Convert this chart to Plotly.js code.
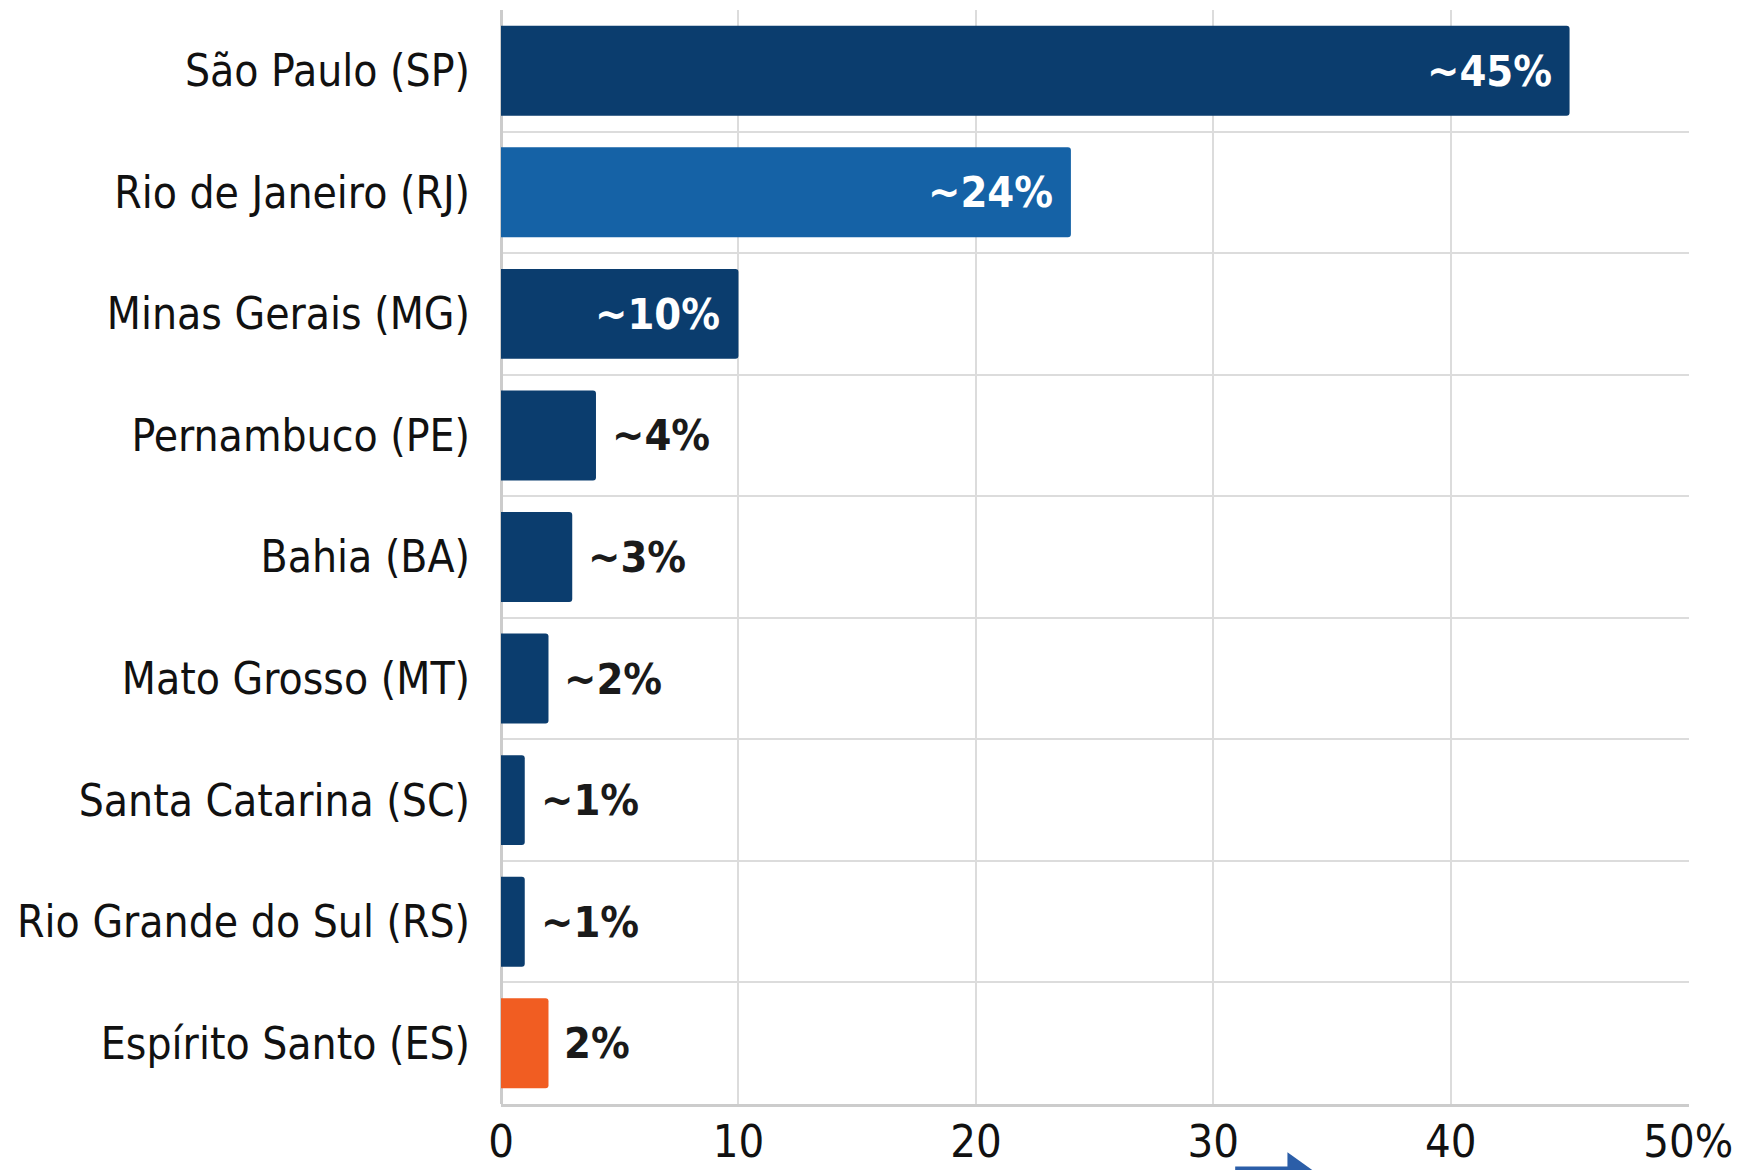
<!DOCTYPE html>
<html>
<head>
<meta charset="utf-8">
<script src="https://cdn.plot.ly/plotly-3.0.1.min.js"></script>
<style>
html,body{margin:0;padding:0;background:#fff;}
#chart{width:1763px;height:1170px;}
</style>
</head>
<body>
<div id="chart"></div>
<script>
const states = ["São Paulo (SP)", "Rio de Janeiro (RJ)", "Minas Gerais (MG)", "Pernambuco (PE)", "Bahia (BA)", "Mato Grosso (MT)", "Santa Catarina (SC)", "Rio Grande do Sul (RS)", "Espírito Santo (ES)"];
const shares = [45, 24, 10, 4, 3, 2, 1, 1, 2];
const labels = ["~45%", "~24%", "~10%", "~4%", "~3%", "~2%", "~1%", "~1%", "2%"];
const labelInside = [true, true, true, false, false, false, false, false, false];
const barColors = ["#0b3d6e", "#1562a6", "#0b3d6e", "#0b3d6e", "#0b3d6e", "#0b3d6e", "#0b3d6e", "#0b3d6e", "#f15d22"];
const tickVals = [0, 10, 20, 30, 40, 50];
const tickText = ["0", "10", "20", "30", "40", "50%"];

const FONT = "'DejaVu Sans Condensed', 'Liberation Sans Narrow', Roboto, sans-serif";

const annotations = states.map((s, i) => ({
  x: shares[i], y: s, xref: 'x', yref: 'y',
  text: '<b>' + labels[i] + '</b>',
  showarrow: false,
  xanchor: labelInside[i] ? 'right' : 'left',
  xshift: labelInside[i] ? -16 : 14,
  yanchor: 'middle',
  font: {family: FONT, size: 43, color: labelInside[i] ? '#ffffff' : '#1a1a1a'}
}));

const trace = {
  type: 'bar', orientation: 'h',
  x: shares, y: states,
  marker: {color: barColors, cornerradius: 3, line: {width: 0}},
  hoverinfo: 'none'
};

const layout = {
  width: 1763, height: 1170,
  margin: {l: 501, r: 74, t: 10, b: 66},
  paper_bgcolor: '#ffffff', plot_bgcolor: '#ffffff',
  showlegend: false,
  bargap: 0.26,
  font: {family: FONT, color: '#1a1a1a'},
  xaxis: {
    range: [0, 50.03], tickvals: tickVals, ticktext: tickText,
    showgrid: true, gridcolor: '#dcdcdc', gridwidth: 2,
    zeroline: true, zerolinecolor: '#cccccc', zerolinewidth: 3,
    showline: true, linecolor: '#cccccc', linewidth: 3,
    ticks: '', ticklabelstandoff: -4,
    tickfont: {family: FONT, size: 45, color: '#111111'},
    fixedrange: true
  },
  yaxis: {
    type: 'category', autorange: 'reversed',
    tickson: 'boundaries',
    showgrid: true, gridcolor: '#dcdcdc', gridwidth: 2,
    showline: false,
    ticks: '', ticklabelstandoff: 30,
    tickfont: {family: FONT, size: 44, color: '#111111'},
    fixedrange: true
  },
  annotations: annotations,
  shapes: [
    {type: 'line', xref: 'paper', yref: 'paper', x0: 0.618, x1: 0.668, y0: -0.059, y1: -0.059,
     line: {color: '#2b5ea8', width: 4}},
    {type: 'path', xref: 'paper', yref: 'paper',
     path: 'M 0.662 -0.044 L 0.685 -0.062 L 0.662 -0.062 Z',
     fillcolor: '#2b5ea8', line: {width: 0}}
  ]
};

Plotly.newPlot('chart', [trace], layout, {displayModeBar: false, staticPlot: true});
</script>
</body>
</html>
